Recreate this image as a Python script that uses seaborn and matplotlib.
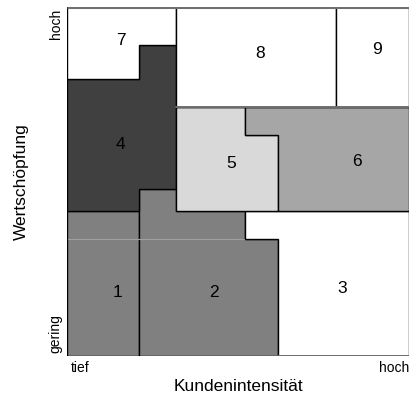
import matplotlib
matplotlib.use("Agg")
import matplotlib.pyplot as plt
import matplotlib.transforms as mtransforms
import seaborn as sns

# Portfolio map: Kundenintensität (x) vs. Wertschöpfung (y), scale 0..10
segments = ["1", "2", "3", "4", "5", "6", "7", "8", "9"]
fills = ["#808080", "#808080", "#ffffff", "#404040", "#d9d9d9",
         "#a6a6a6", "#ffffff", "#ffffff", "#ffffff"]

# outline vertices of each segment
seg_x = [
    [0, 2.1, 2.1, 0],
    [2.1, 3.19, 3.19, 5.2, 5.2, 6.17, 6.17, 2.1],
    [5.2, 10, 10, 6.17, 6.17, 5.2],
    [0, 2.1, 2.1, 3.19, 3.19, 2.1, 2.1, 0],
    [3.19, 5.2, 5.2, 6.17, 6.17, 3.19],
    [5.2, 10, 10, 6.17, 6.17, 5.2],
    [0, 3.19, 3.19, 2.1, 2.1, 0],
    [3.19, 7.87, 7.87, 3.19],
    [7.87, 10, 10, 7.87],
]
seg_y = [
    [0, 0, 4.15, 4.15],
    [4.79, 4.79, 4.15, 4.15, 3.35, 3.35, 0, 0],
    [4.15, 4.15, 0, 0, 3.35, 3.35],
    [7.94, 7.94, 8.91, 8.91, 4.79, 4.79, 4.15, 4.15],
    [7.13, 7.13, 6.33, 6.33, 4.15, 4.15],
    [7.13, 7.13, 4.15, 4.15, 6.33, 6.33],
    [10, 10, 8.91, 8.91, 7.94, 7.94],
    [10, 10, 7.13, 7.13],
    [10, 10, 7.13, 7.13],
]
label_x = [1.49, 4.30, 8.04, 1.55, 4.80, 8.48, 1.58, 5.64, 9.06]
label_y = [1.81, 1.81, 1.92, 6.07, 5.53, 5.56, 9.03, 8.68, 8.77]

x_ticks = [0, 10]
x_ticklabels = ["tief", "hoch"]
y_ticks = [0, 10]
y_ticklabels = ["gering", "hoch"]


def main() -> None:
    sns.set_style("white")
    plt.rcParams["font.family"] = ["Liberation Sans", "DejaVu Sans"]
    for key in ["text.color", "axes.labelcolor", "xtick.color", "ytick.color"]:
        plt.rcParams[key] = "black"

    fig = plt.figure(figsize=(4.09, 4.01), dpi=100)
    ax = fig.add_axes([67 / 409, 45 / 401, 342 / 409, 349 / 401])

    for name, color, xs, ys, lx, ly in zip(segments, fills, seg_x, seg_y, label_x, label_y):
        ax.fill(xs, ys, facecolor=color, edgecolor="black", linewidth=1.0)
        ax.text(lx, ly, name, ha="center", va="center", fontsize=12.5)

    # grey borders as in the original drawing
    ax.plot([0, 10], [10, 10], color="#707070", linewidth=2.2, solid_capstyle="butt")
    ax.plot([3.19, 10], [7.13, 7.13], color="#707070", linewidth=1.4)
    ax.plot([6.17, 10], [0, 0], color="#707070", linewidth=1.4)
    ax.plot([0.03, 5.17], [3.35, 3.35], color="#a0a0a0", linewidth=0.8)

    ax.set_xlim(0, 10)
    ax.set_ylim(0, 10)
    sns.despine(ax=ax, left=True, bottom=True)

    ax.set_xticks(x_ticks)
    ax.set_xticklabels(x_ticklabels, fontsize=10)
    ax.set_yticks(y_ticks)
    ax.set_yticklabels(y_ticklabels, fontsize=10, rotation=90)
    ax.tick_params(axis="x", length=0, pad=3.5)
    ax.tick_params(axis="y", length=0, pad=3)
    xl = ax.get_xticklabels()
    xl[0].set_ha("left")
    xl[0].set_transform(xl[0].get_transform()
                        + mtransforms.ScaledTranslation(4 / 100, 0, fig.dpi_scale_trans))
    xl[-1].set_ha("right")
    yl = ax.get_yticklabels()
    yl[0].set_va("bottom")
    yl[0].set_transform(yl[0].get_transform()
                        + mtransforms.ScaledTranslation(0, 3 / 100, fig.dpi_scale_trans))
    yl[-1].set_va("top")
    yl[-1].set_transform(yl[-1].get_transform()
                         + mtransforms.ScaledTranslation(0, -2 / 100, fig.dpi_scale_trans))

    ax.set_xlabel("Kundenintensität", fontsize=12.5, labelpad=3)
    ax.set_ylabel("Wertschöpfung", fontsize=12.5, labelpad=14)

    fig.savefig("out.png", dpi=100)
    plt.close(fig)


if __name__ == "__main__":
    main()
